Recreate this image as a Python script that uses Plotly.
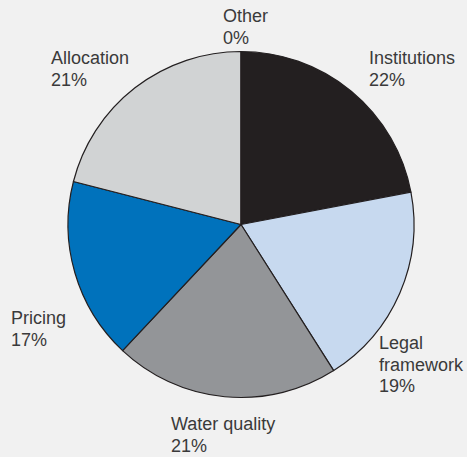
import plotly.graph_objects as go

categories = ["Institutions", "Legal framework", "Water quality", "Pricing", "Allocation", "Other"]
label_lines = [["Institutions"], ["Legal", "framework"], ["Water quality"], ["Pricing"], ["Allocation"], ["Other"]]
values = [22, 19, 21, 17, 21, 0]
colors = ["#231f20", "#c7d9ef", "#939598", "#0072bc", "#d1d3d4", "#ffffff"]

W, H = 467, 457
cx, cy, r = 241, 224.5, 173

# label anchor positions (pixel, top-left of first line box)
label_pos = {
    "Institutions": (367, 46),
    "Legal framework": (377, 331),
    "Water quality": (169, 412),
    "Pricing": (9, 306),
    "Allocation": (49, 46),
    "Other": (221, 4),
}
line_gap = 21.5

fig = go.Figure(go.Pie(
    labels=categories,
    values=values,
    sort=False,
    direction="clockwise",
    rotation=0,
    textinfo="none",
    hoverinfo="label+percent",
    marker=dict(colors=colors, line=dict(color="#231f20", width=1.2)),
    domain=dict(x=[(cx - r) / W, (cx + r) / W], y=[1 - (cy + r) / H, 1 - (cy - r) / H]),
    showlegend=False,
))

annotations = []
for cat, lines, v in zip(categories, label_lines, values):
    px, py = label_pos[cat]
    for i, t in enumerate(lines + [f"{v}%"]):
        annotations.append(dict(
            x=px / W, y=1 - (py + i * line_gap) / H, xref="paper", yref="paper",
            xanchor="left", yanchor="top", align="left", showarrow=False,
            text=t,
            font=dict(family="Liberation Sans, Arial, sans-serif", size=18, color="#3a3a3a"),
        ))

fig.update_layout(
    width=W, height=H,
    margin=dict(l=0, r=0, t=0, b=0),
    paper_bgcolor="#f1f1f1",
    plot_bgcolor="#f1f1f1",
    annotations=annotations,
)

fig.write_html(
    "out.html",
    config={"displayModeBar": False},
    post_script="document.body.style.margin='0';document.body.style.overflow='hidden';",
)
